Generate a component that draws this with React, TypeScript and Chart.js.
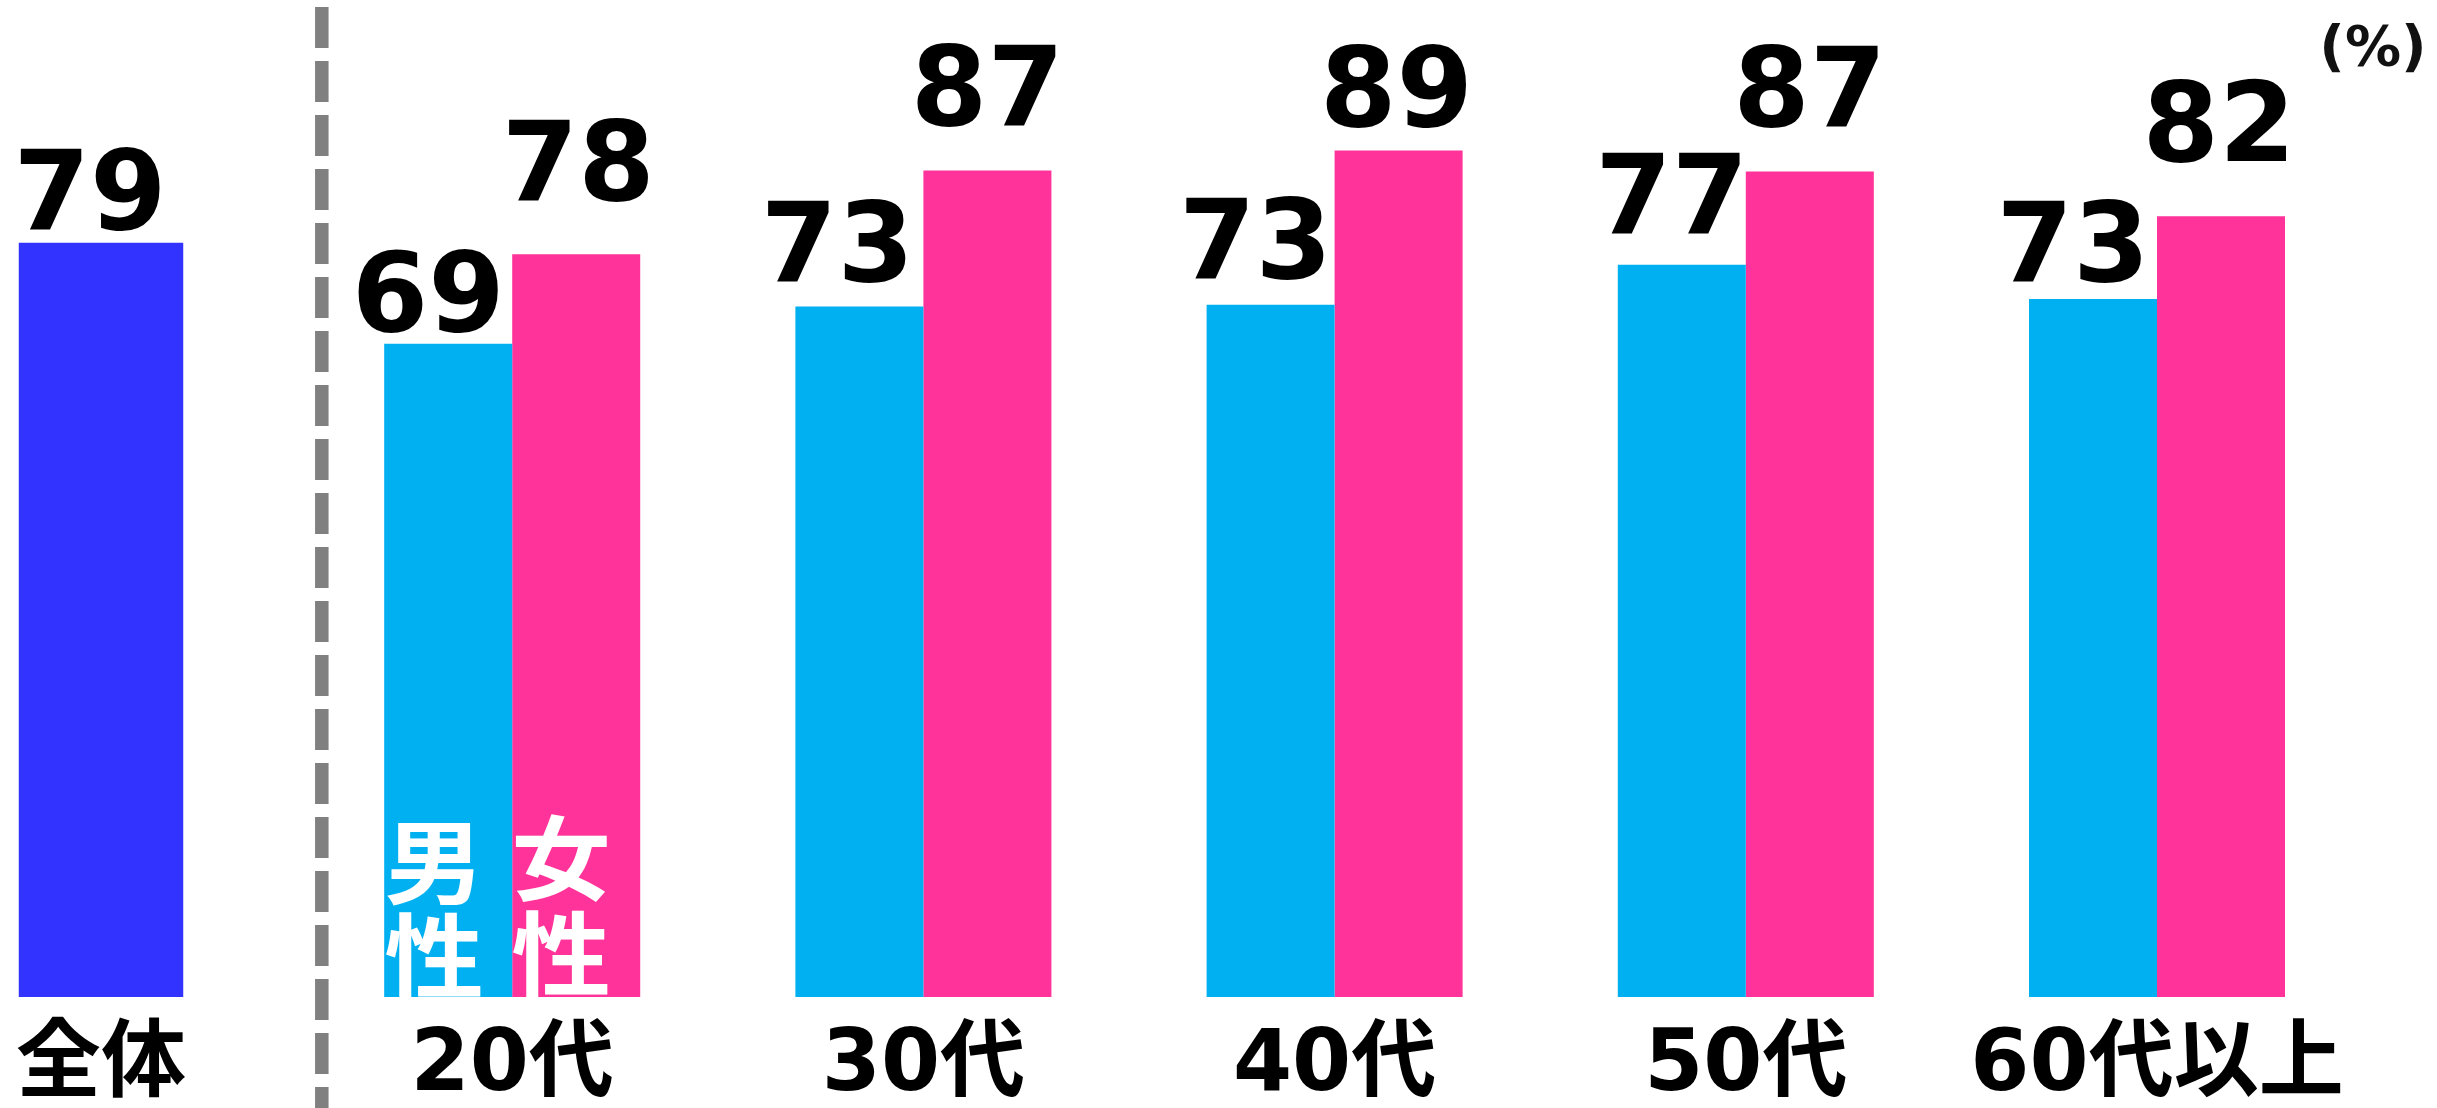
import React, { useEffect, useRef } from "react";
import { Chart, registerables } from "chart.js";

Chart.register(...registerables);

// ---- data ----
const categories = ["全体", "20代", "30代", "40代", "50代", "60代以上"];
const totalValues = [79.3, null, null, null, null, null];
const maleValues = [null, 68.7, 72.6, 72.8, 77.0, 73.4];
const femaleValues = [null, 78.1, 86.9, 89.0, 86.8, 82.1];
const unitLabel = "(%)";
const maleLabel = ["男", "性"];
const femaleLabel = ["女", "性"];

// ---- label styling (offsets from bar tops, px) ----
const totalLabelLift = [14];
const totalLabelShift = [-11];
const maleLabelLift = [0, 13, 26, 27, 32, 18];
const maleLabelShift = [0, -20, -22, -15, -10, -20];
const femaleLabelLift = [0, 54, 46, 25, 46, 55];
const femaleLabelShift = [0, 2, 0, -2, 0, -2];

const W = 2437;
const H = 1108;

const COLORS = {
  total: "#3333FF",
  male: "#00B0F0",
  female: "#FF3399",
};

const VALUE_FONT = 'bold 110px "DejaVu Sans", "Noto Sans CJK JP", sans-serif';
const CAT_FONT = 'bold 85px "DejaVu Sans", "Noto Sans CJK JP", sans-serif';
const INNER_FONT = 'bold 92px "Noto Sans CJK JP", sans-serif';
const UNIT_FONT = 'bold 56px "DejaVu Sans", sans-serif';

function drawStretched(ctx: any, text: string, x: number, y: number, sx: number) {
  ctx.save();
  ctx.translate(x, y);
  ctx.scale(sx, 1);
  ctx.fillText(text, 0, 0);
  ctx.restore();
}

const overlayPlugin = {
  id: "overlay",
  beforeDatasetsDraw(chart: any) {
    const ctx = chart.ctx;
    const xs = chart.scales.x;
    const x0 = xs.getPixelForValue(0);
    const x1 = xs.getPixelForValue(1);
    const dx = x0 + (x1 - x0) * 0.537;
    ctx.save();
    ctx.strokeStyle = "#808080";
    ctx.lineWidth = 13.5;
    ctx.lineCap = "butt";
    ctx.setLineDash([41, 13]);
    ctx.beginPath();
    ctx.moveTo(dx, 7);
    ctx.lineTo(dx, H);
    ctx.stroke();
    ctx.restore();
  },
  afterDatasetsDraw(chart: any) {
    const ctx = chart.ctx;
    const xs = chart.scales.x;
    const ys = chart.scales.y;
    const base = ys.getPixelForValue(0);
    ctx.save();

    // value labels
    ctx.font = VALUE_FONT;
    ctx.fillStyle = "#000";
    ctx.textAlign = "center";
    ctx.textBaseline = "alphabetic";
    const specs = [
      { data: totalValues, lift: totalLabelLift, shift: totalLabelShift },
      { data: maleValues, lift: maleLabelLift, shift: maleLabelShift },
      { data: femaleValues, lift: femaleLabelLift, shift: femaleLabelShift },
    ];
    specs.forEach((s, di) => {
      const meta = chart.getDatasetMeta(di);
      s.data.forEach((v: any, i: number) => {
        if (v === null || v === undefined) return;
        const el = meta.data[i];
        const lift = s.lift[i] ?? 14;
        const shift = s.shift[i] ?? 0;
        ctx.fillText(String(Math.round(v)), el.x + shift, el.y - lift);
      });
    });

    // category labels
    ctx.font = CAT_FONT;
    ctx.fillStyle = "#000";
    categories.forEach((c, i) => {
      ctx.fillText(c, xs.getPixelForValue(i), 1090);
    });

    // inner vertical labels in the first grouped category
    ctx.font = INNER_FONT;
    ctx.fillStyle = "#FFFFFF";
    const mEl = chart.getDatasetMeta(1).data[1];
    const fEl = chart.getDatasetMeta(2).data[1];
    drawStretched(ctx, maleLabel[0], mEl.x - 14, base - 100, 1.08);
    drawStretched(ctx, maleLabel[1], mEl.x - 14, base - 6, 1.08);
    drawStretched(ctx, femaleLabel[0], fEl.x - 15, base - 104, 1.08);
    drawStretched(ctx, femaleLabel[1], fEl.x - 15, base - 8, 1.08);

    // unit
    ctx.font = UNIT_FONT;
    ctx.fillStyle = "#111";
    ctx.textBaseline = "middle";
    ctx.fillText(unitLabel, 2373, 50);

    ctx.restore();
  },
};

export default function App() {
  const ref = useRef<HTMLCanvasElement | null>(null);

  useEffect(() => {
    document.body.style.margin = "0";
    const canvas = ref.current;
    if (!canvas) return;
    const chart = new Chart(canvas, {
      type: "bar",
      data: {
        labels: categories,
        datasets: [
          {
            label: "全体",
            data: totalValues as any,
            backgroundColor: COLORS.total,
            categoryPercentage: 0.4,
            barPercentage: 1,
            borderWidth: 0,
            clip: false as any,
          },
          {
            label: "男性",
            data: maleValues as any,
            backgroundColor: COLORS.male,
            categoryPercentage: 0.6226,
            barPercentage: 1,
            borderWidth: 0,
            clip: false as any,
          },
          {
            label: "女性",
            data: femaleValues as any,
            backgroundColor: COLORS.female,
            categoryPercentage: 0.6226,
            barPercentage: 1,
            borderWidth: 0,
            clip: false as any,
          },
        ],
      },
      options: {
        animation: false,
        responsive: false,
        devicePixelRatio: 1,
        layout: { padding: { left: 101, right: W - 2157, top: 46, bottom: H - 997 } },
        datasets: { bar: { skipNull: true } } as any,
        scales: {
          x: { type: "category", offset: false, display: false, grid: { display: false } },
          y: { min: 0, max: 100, display: false, grid: { display: false } },
        },
        plugins: {
          legend: { display: false },
          tooltip: { enabled: false },
        },
      },
      plugins: [overlayPlugin],
    });
    return () => chart.destroy();
  }, []);

  return (
    <div style={{ position: "absolute", left: 0, top: 0, width: W, height: H, background: "#fff" }}>
      <canvas ref={ref} width={W} height={H} style={{ display: "block", width: W, height: H }} />
    </div>
  );
}
